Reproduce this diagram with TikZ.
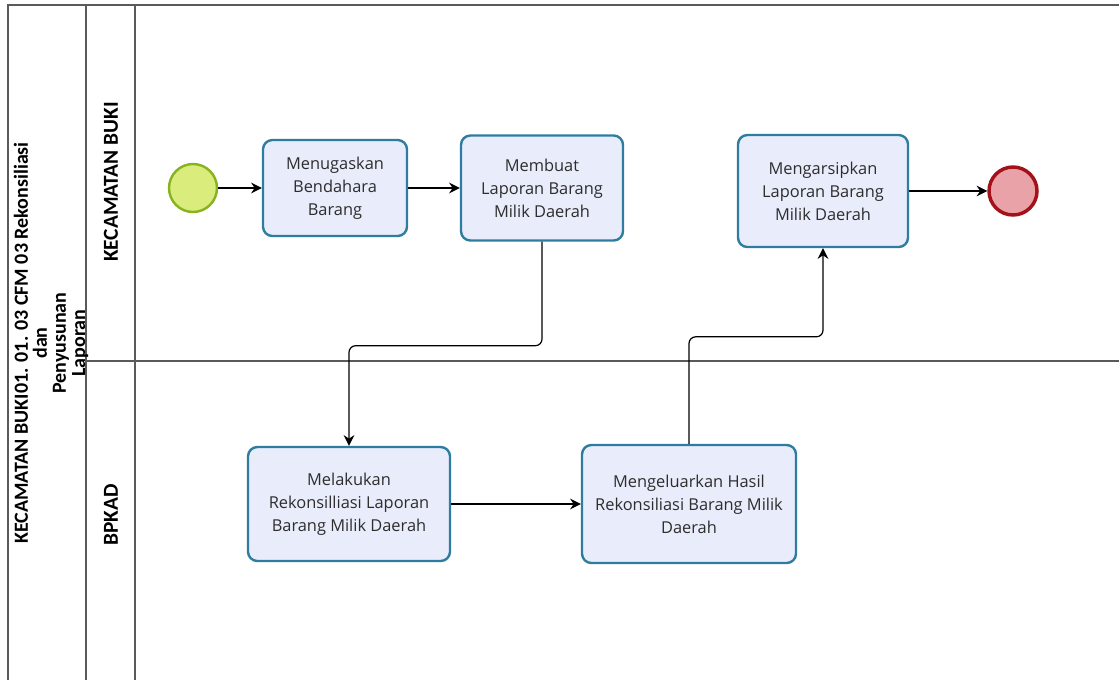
\documentclass[tikz,border=0pt]{standalone}
\usepackage{fontspec}
\setmainfont{Open Sans}
\newfontfamily\lanefont{Carlito}
\usetikzlibrary{arrows.meta,positioning}

\definecolor{taskfill}{RGB}{233,237,251}
\definecolor{taskline}{RGB}{46,124,158}
\definecolor{startfill}{RGB}{217,236,124}
\definecolor{startline}{RGB}{134,179,30}
\definecolor{endfill}{RGB}{233,163,168}
\definecolor{endline}{RGB}{163,18,27}
\definecolor{poolline}{RGB}{90,90,90}
\definecolor{labeltext}{RGB}{45,45,45}

\begin{document}
\begin{tikzpicture}[x=0.75pt, y=-0.75pt,
  task/.style={draw=taskline, fill=taskfill, line width=1.8pt, rounded corners=7pt,
    align=center, text=labeltext, font=\fontsize{12.3}{17.2}\selectfont},
  startev/.style={circle, draw=startline, fill=startfill, line width=1.8pt, minimum size=36pt},
  endev/.style={circle, draw=endline, fill=endfill, line width=2.6pt, minimum size=36pt},
  flow/.style={draw, line width=0.9pt, rounded corners=5pt, -{Stealth[length=8pt,width=8pt]}},
  pool/.style={draw=poolline, line width=1.1pt},
  lanelabel/.style={rotate=90, align=center, font=\lanefont\bfseries\fontsize{16}{14.3}\selectfont},
  pooltext/.style={rotate=90, align=center, font=\lanefont\bfseries\fontsize{15}{14.3}\selectfont}]

\useasboundingbox (0,0) rectangle (1119,679);

% Pool dan lane
\draw[pool] (8,690) -- (8,5) -- (1125,5);
\draw[pool] (86,5) -- (86,690);
\draw[pool] (135,5) -- (135,690);
\draw[pool] (86,361) -- (1125,361);

\node[pooltext] (pooltitle) at (51,343)
  {KECAMATAN BUKI01. 01. 03 CFM 03 Rekonsiliasi\\dan\\Penyusunan\\Laporan};
\node[lanelabel] (lanekec) at (111,182) {KECAMATAN BUKI};
\node[lanelabel] (lanebpkad) at (111,515) {BPKAD};

% Kegiatan
\node[startev] (mulai) at (193,188) {};
\node[task, minimum width=108pt, minimum height=72pt] (tugas) at (335,188)
  {Menugaskan\\Bendahara\\Barang};
\node[task, minimum width=121.5pt, minimum height=78.75pt] (lap) at (542,188)
  {Membuat\\Laporan Barang\\Milik Daerah};
\node[task, minimum width=127.5pt, minimum height=84pt] (arsip) at (823,191)
  {Mengarsipkan\\Laporan Barang\\Milik Daerah};
\node[endev] (selesai) at (1013,191) {};

\node[task, minimum width=151.5pt, minimum height=85.5pt] (rek) at (349,504)
  {Melakukan\\Rekonsilliasi Laporan\\Barang Milik Daerah};
\node[task, minimum width=160.5pt, minimum height=88.5pt] (hasil) at (689,504)
  {Mengeluarkan Hasil\\Rekonsiliasi Barang Milik\\Daerah};

% Alur
\draw[flow] (mulai) -- (tugas);
\draw[flow] (tugas) -- (lap);
\draw[flow] (arsip) -- (selesai);
\draw[flow] (lap.south) -- ++(0,104) -| (rek.north);
\draw[flow] (rek) -- (hasil);
\draw[flow] (hasil.north) -- ++(0,-107) -| (arsip.south);

\end{tikzpicture}
\end{document}
